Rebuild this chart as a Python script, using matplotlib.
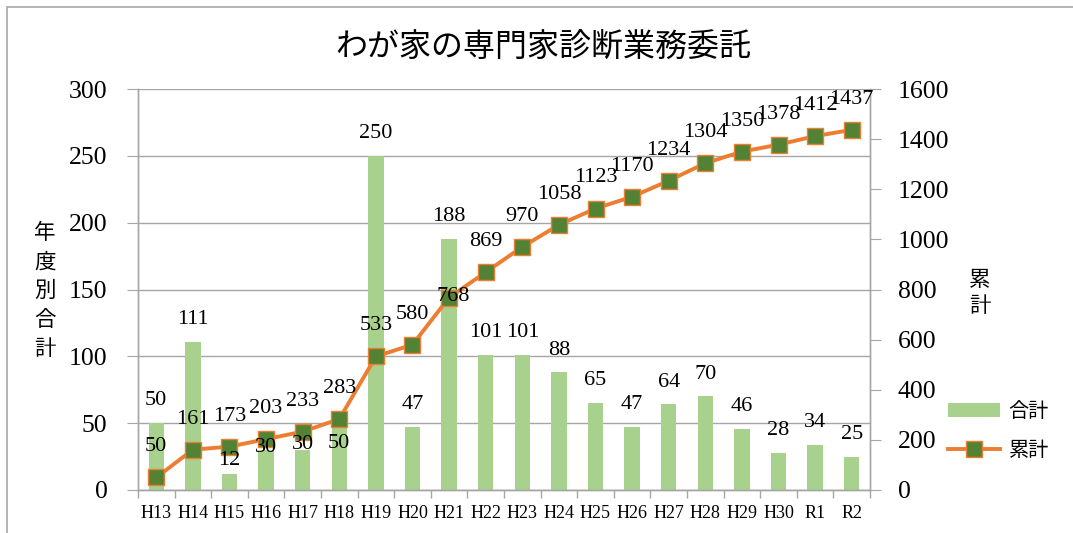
import matplotlib.pyplot as plt
import matplotlib.patches as mpatches
import numpy as np

plt.rcParams['font.family'] = ['Liberation Serif', 'Noto Sans CJK JP', 'DejaVu Sans']

# データ
years = ['H13', 'H14', 'H15', 'H16', 'H17', 'H18', 'H19', 'H20', 'H21', 'H22',
         'H23', 'H24', 'H25', 'H26', 'H27', 'H28', 'H29', 'H30', 'R1', 'R2']
goukei = [50, 111, 12, 30, 30, 50, 250, 47, 188, 101,
          101, 88, 65, 47, 64, 70, 46, 28, 34, 25]
ruikei = [50, 161, 173, 203, 233, 283, 533, 580, 768, 869,
          970, 1058, 1123, 1170, 1234, 1304, 1350, 1378, 1412, 1437]

bar_col = '#A9D18E'
line_col = '#ED7D31'
mark_col = '#548235'
grid_col = '#A6A6A6'

W, H = 1073, 533
fig = plt.figure(figsize=(W / 100, H / 100), dpi=100)
ax = fig.add_axes([138 / W, 1 - 490 / H, (870 - 138) / W, (490 - 89) / H])
ax2 = ax.twinx()

x = np.arange(len(years))
ax.bar(x, goukei, width=0.42, color=bar_col, label='合計', zorder=2)
ax2.plot(x, ruikei, '-s', color=line_col, lw=2.8, ms=11, mfc=mark_col,
         mec=line_col, mew=1.0, label='累計', zorder=3)

ax.set_xlim(-0.5, len(years) - 0.5)
ax.set_ylim(0, 300)
ax.set_yticks(range(0, 301, 50))
ax2.set_ylim(0, 1600)
ax2.set_yticks(range(0, 1601, 200))
ax.yaxis.grid(True, color=grid_col, lw=1.0, zorder=0)
ax.set_axisbelow(True)

ax.set_xticks(x)
ax.set_xticklabels(years, fontsize=13)
ax.set_xticks(np.arange(-0.5, len(years), 1), minor=True)
ax.tick_params(axis='x', which='major', length=0, pad=11)
ax.tick_params(axis='x', which='minor', length=6, color=grid_col, width=1)
ax.tick_params(axis='y', labelsize=18.5, length=8, color=grid_col, pad=14)
ax2.tick_params(axis='y', labelsize=18.5, length=8, color=grid_col, pad=12)

for a in (ax, ax2):
    a.spines['top'].set_visible(False)
    for s in ('left', 'right', 'bottom'):
        a.spines[s].set_color(grid_col)
        a.spines[s].set_linewidth(1.0)

# 合計ラベル (一部は手で動かした位置)
bar_dy = {2: -6, 3: -14, 4: -12, 5: -31}
for i, v in enumerate(goukei):
    ax2.annotate(str(v), (x[i], v), xycoords=ax.transData,
                 xytext=(0, 16 + bar_dy.get(i, 0)), textcoords='offset points',
                 ha='center', va='center', fontsize=16, zorder=5)

# 累計ラベル
line_dy = {8: -21}
for i, v in enumerate(ruikei):
    ax2.annotate(str(v), (x[i], v), xytext=(3 if i == 8 else 0, 22 + line_dy.get(i, 0)),
                 textcoords='offset points', ha='center', va='center',
                 fontsize=16, zorder=5)

fig.text(543 / W, 1 - 47 / H, 'わが家の専門家診断業務委託', ha='center', va='center',
         fontsize=23, family=['Noto Sans CJK JP'])
fig.text(45 / W, 1 - 291 / H, '\n'.join('年度別合計'), ha='center', va='center',
         fontsize=15.5, linespacing=1.4, family=['Noto Sans CJK JP'])
fig.text(980 / W, 1 - 293 / H, '\n'.join('累計'), ha='center', va='center',
         fontsize=15.5, linespacing=1.25, family=['Noto Sans CJK JP'])

h1, l1 = ax.get_legend_handles_labels()
h2, l2 = ax2.get_legend_handles_labels()
fig.legend(h1 + h2, l1 + l2, loc='center left', bbox_to_anchor=(930 / W, 1 - 431 / H),
           frameon=False, handlelength=2.6, handletextpad=0.4,
           labelspacing=0.9, prop={'family': ['Noto Sans CJK JP'], 'size': 14.5})

fig.patches.append(mpatches.Rectangle((7 / W, -0.1), 2, 1.1 - 7 / H, transform=fig.transFigure,
                                      fill=False, edgecolor=grid_col, lw=1.2))

fig.savefig('out.png', dpi=100)
